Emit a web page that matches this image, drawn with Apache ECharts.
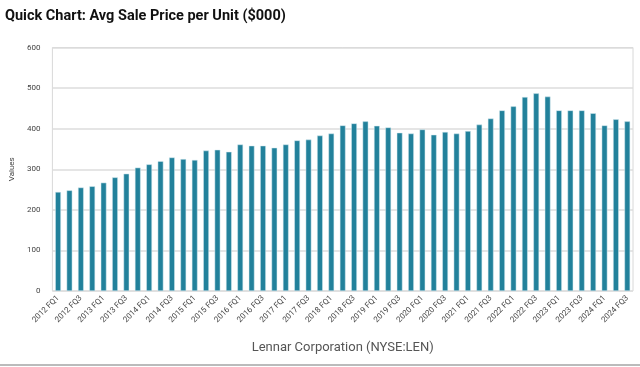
<!DOCTYPE html>
<html><head><meta charset="utf-8">
<script src="https://cdn.jsdelivr.net/npm/echarts@6/dist/echarts.min.js"></script>
<style>html,body{margin:0;padding:0;background:#fff}#c{width:640px;height:367px}</style>
</head><body><div id="c"></div>
<script>
const years = [2012,2013,2014,2015,2016,2017,2018,2019,2020,2021,2022,2023,2024];
const quarters = ['FQ1','FQ2','FQ3','FQ4'];
const categories = [];
years.forEach(y => quarters.forEach(q => { if (!(y === 2024 && q === 'FQ4')) categories.push(y + ' ' + q); }));
const values = [244,248,255,258,267,280,289,304,312,320,329,325,323,346,348,
  343,361,358,358,353,361,371,373,383,388,408,413,418,407,403,390,388,398,
  385,392,388,394,410,425,445,455,478,487,479,445,445,445,438,408,423,418];
const yTicks = [0,100,200,300,400,500,600];

const chart = echarts.init(document.getElementById('c'));
chart.setOption({
  animation: false,
  title: { text: 'Quick Chart: Avg Sale Price per Unit ($000)', left: 0, top: 4,
    textStyle: { fontFamily: 'Roboto', fontWeight: 'bold', fontSize: 14.5, color: '#111' } },
  grid: { left: 46.5, right: 7, top: 47.5, bottom: 76, show: true, borderColor: '#d8d8d8', borderWidth: 1 },
  xAxis: { type: 'category', data: categories,
    name: 'Lennar Corporation (NYSE:LEN)', nameLocation: 'middle', nameGap: 50,
    nameTextStyle: { fontFamily: 'Roboto', fontSize: 13, color: '#555' },
    axisLine: { show: false }, axisTick: { show: false },
    axisLabel: { interval: 1, rotate: 45, fontSize: 8, color: '#444', fontFamily: 'Roboto', margin: 6 } },
  yAxis: { type: 'value', min: yTicks[0], max: yTicks[yTicks.length-1], interval: 100,
    name: 'Values', nameLocation: 'middle', nameGap: 30,
    nameTextStyle: { fontFamily: 'Roboto', fontSize: 8, color: '#444' },
    axisLabel: { fontSize: 8, color: '#444', fontFamily: 'Roboto', margin: 12 },
    splitLine: { lineStyle: { color: '#dcdcdc', width: 1.5 } } },
  series: [{ type: 'bar', data: values, barWidth: '50%',
    itemStyle: { color: '#22819b', borderColor: '#d6eaf0', borderWidth: 0.5 } }],
  graphic: [{ type: 'rect', shape: { x: 0, y: 364, width: 640, height: 2 }, style: { fill: '#bbb' } }]
});
</script></body></html>
